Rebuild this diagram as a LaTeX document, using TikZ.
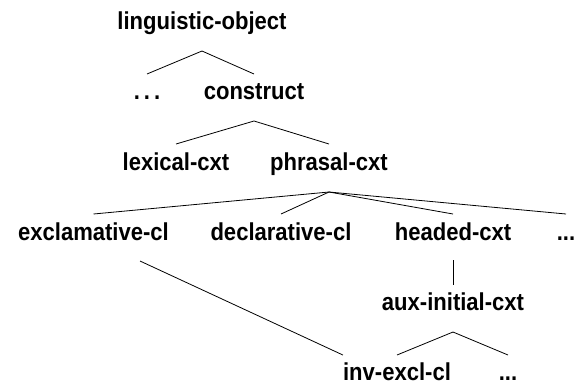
\documentclass[tikz,border=0pt]{standalone}
\usepackage{fontspec}
\setmainfont{Liberation Sans}[FakeStretch=0.9]
\begin{document}
\begin{tikzpicture}[x=1pt,y=-1pt,
  lbl/.style={font=\bfseries\fontsize{24.5}{28}\selectfont, inner sep=0pt, anchor=base},
  edge/.style={line width=0.8pt}]
\useasboundingbox (0,0) rectangle (577,389);
\node[lbl] (lo) at (202,29) {linguistic-object};
\node[lbl] (d1) at (147,99) {.\hspace{4pt}.\hspace{4pt}.};
\node[lbl] (cons) at (254,99) {construct};
\node[lbl] (lex) at (176,170) {lexical-cxt};
\node[lbl] (phr) at (329,170) {phrasal-cxt};
\node[lbl] (excl) at (93.5,240) {exclamative-cl};
\node[lbl] (decl) at (281,240) {declarative-cl};
\node[lbl] (head) at (453,240) {headed-cxt};
\node[lbl] (d2) at (566,240) {...};
\node[lbl] (aux) at (453,310) {aux-initial-cxt};
\node[lbl] (inv) at (397,380) {inv-excl-cl};
\node[lbl] (d3) at (508,380) {...};
\coordinate (a1) at ([yshift=-22pt]lo.base);
\coordinate (a2) at ([yshift=-22pt]cons.base);
\coordinate (a3) at ([yshift=-22pt]phr.base);
\coordinate (a4) at ([yshift=-22pt]aux.base);
\draw[edge] ([yshift=25pt]d1.base) -- (a1) -- ([yshift=25pt]cons.base);
\draw[edge] ([yshift=26pt]lex.base) -- (a2) -- ([yshift=26pt]phr.base);
\draw[edge] (a3) -- ([yshift=26pt]excl.base);
\draw[edge] (a3) -- ([yshift=26pt]decl.base);
\draw[edge] (a3) -- ([yshift=26pt]head.base);
\draw[edge] (a3) -- ([yshift=26pt]d2.base);
\draw[edge] ([yshift=-20pt]head.base) -- ([yshift=25pt]aux.base);
\draw[edge] ([yshift=25pt]inv.base) -- (a4) -- ([yshift=25pt]d3.base);
\draw[edge] ([shift={(46.5pt,-21pt)}]excl.base) -- ([yshift=25pt]inv.base west);
\end{tikzpicture}
\end{document}
